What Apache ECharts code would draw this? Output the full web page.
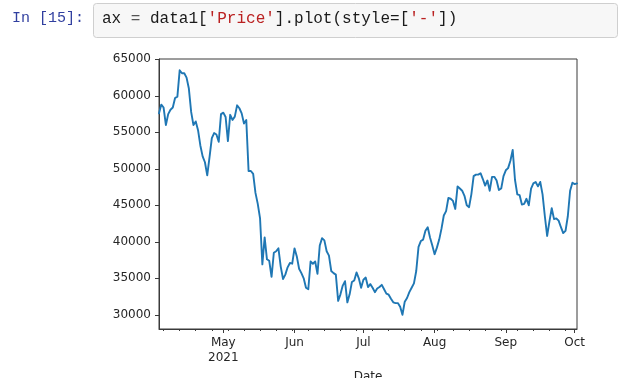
<!DOCTYPE html>
<html>
<head>
<meta charset="utf-8">
<script src="https://cdn.jsdelivr.net/npm/echarts@6/dist/echarts.min.js"></script>
<style>
html,body{margin:0;padding:0;background:#fff;}
#chart{width:619px;height:378px;}
</style>
</head>
<body>
<div id="chart"></div>
<script>
// ---- data (daily closing price) ----
const startDate = '2021-04-03';
const prices = [
57600,58800,58400,56000,57500,58100,58400,59700,59900,63500,
63100,63100,62500,61000,57800,56000,56500,55300,53200,51700,
50900,49100,51600,54200,54900,54700,53700,57500,57700,57100,
53800,57400,56700,57150,58700,58300,57600,56200,56700,49700,
49700,49300,46700,45200,43200,36900,40600,37600,37400,35200,
38500,38700,39100,36600,34900,35500,36500,37100,37000,39100,
38000,36300,35700,35000,33700,33500,37300,37000,37300,35600,
39500,40500,40200,38700,38100,36000,35700,35500,31900,32800,
34000,34600,31700,32800,34500,34700,35800,35000,33700,34800,
35100,33800,34200,33700,33100,33600,33800,34100,33500,32900,
32750,32200,31700,31600,31600,31100,30000,31800,32300,33100,
33700,34300,36000,39300,40100,40300,41500,42000,40600,39500,
38300,39200,40300,41800,43600,44200,46000,45900,45600,44500,
47600,47300,47000,46300,45000,44750,46500,49000,49200,49200,
49400,48600,47700,48400,47000,48900,48900,48400,47100,47300,
49000,49800,50100,51100,52600,48500,46500,46400,45100,45200,
45900,45000,47300,48000,48200,47600,48200,46500,43500,40800,
42800,44600,43100,43200,42900,42000,41200,41500,43500,47000,
48100,47900,48000
];
const monthTickDates = ['2021-05-01','2021-06-01','2021-07-01','2021-08-01','2021-09-01','2021-10-01'];
const monthTickLabels = ['May\n2021','Jun','Jul','Aug','Sep','Oct'];
const yTickValues = [30000,35000,40000,45000,50000,55000,60000,65000];
const codeLabel = 'In [15]:';

// ---- build ----
const DAY = 86400000;
const parseD = s => { const p=s.split('-').map(Number); return Date.UTC(p[0],p[1]-1,p[2]); };
const t0 = parseD(startDate);
const seriesData = prices.map((v,i)=>[t0 + i*DAY, v]);
const xMin = t0, xMax = t0 + (prices.length-1)*DAY;
const monthTicks = monthTickDates.map(parseD);
const mondays = [];
for (let t=xMin; t<=xMax; t+=DAY){ if (new Date(t).getUTCDay()===1 && monthTicks.indexOf(t)<0) mondays.push(t); }

const txt = '#262626';
const font = 'DejaVu Sans';
const chart = echarts.init(document.getElementById('chart'));
chart.setOption({
  animation:false,
  backgroundColor:'#ffffff',
  grid:{left:159,right:42,top:59,bottom:49,show:true,borderColor:'#3a3a3a',borderWidth:1,backgroundColor:'transparent',
        containLabel:false,outerBoundsMode:'none'},
  xAxis:[{
    type:'value',min:xMin,max:xMax,scale:true,
    axisLine:{show:true,lineStyle:{color:'#3a3a3a',width:1}},
    axisTick:{show:true,length:4,customValues:monthTicks,lineStyle:{color:'#3a3a3a',width:1}},
    axisLabel:{show:true,customValues:monthTicks,margin:6,color:txt,fontFamily:font,fontSize:12,lineHeight:15,
      formatter:(v)=>{const i=monthTicks.indexOf(v);return i>=0?monthTickLabels[i]:'';}},
    splitLine:{show:false},
    name:'Date',nameLocation:'middle',nameGap:42,nameTextStyle:{color:txt,fontFamily:font,fontSize:12}
  },{
    type:'value',min:xMin,max:xMax,scale:true,position:'bottom',
    axisLine:{show:false},
    axisTick:{show:true,length:2,customValues:mondays,lineStyle:{color:'#3a3a3a',width:1}},
    axisLabel:{show:false},splitLine:{show:false}
  }],
  yAxis:{
    type:'value',min:28050,max:65050,
    axisLine:{show:true,lineStyle:{color:'#3a3a3a',width:1}},
    axisTick:{show:true,length:4,customValues:yTickValues,lineStyle:{color:'#3a3a3a',width:1}},
    axisLabel:{show:true,customValues:yTickValues,margin:8,color:txt,fontFamily:font,fontSize:12,formatter:v=>String(v)},
    splitLine:{show:false}
  },
  series:[{
    type:'line',data:seriesData,xAxisIndex:0,showSymbol:false,symbol:'none',
    lineStyle:{color:'#1f77b4',width:1.9,join:'round',cap:'round'},
    emphasis:{disabled:true},silent:true
  }],
  graphic:[
    {type:'rect',left:93,top:3,shape:{width:524,height:34,r:3},style:{fill:'#f7f7f7',stroke:'#cfcfcf',lineWidth:1},silent:true},
    {type:'text',left:12,top:11,style:{text:codeLabel,fill:'#303F9F',font:'15px "Liberation Mono"'},silent:true},
    {type:'text',left:102,top:11,style:{
      text:'{n|ax }{o|=}{n| data1[}{s|\'Price\'}{n|].plot(style=[}{s|\'-\'}{n|])}',
      font:'16px "Liberation Mono"',
      rich:{
        n:{fill:'#1a1a1a',font:'16px "Liberation Mono"'},
        o:{fill:'#555555',font:'16px "Liberation Mono"'},
        s:{fill:'#BA2121',font:'16px "Liberation Mono"'}
      }},silent:true}
  ]
});
</script>
</body>
</html>
